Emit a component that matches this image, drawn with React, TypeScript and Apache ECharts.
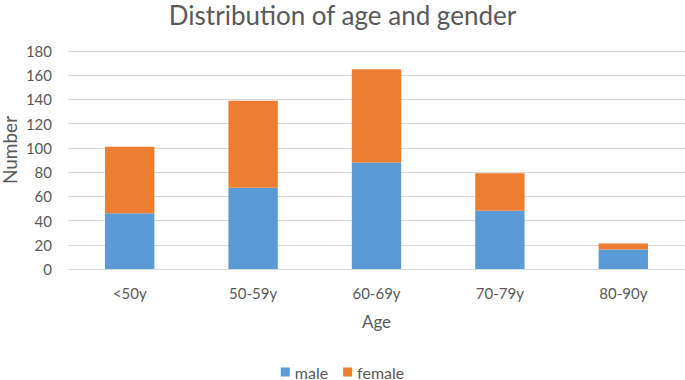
import React, { useEffect, useRef } from "react";
import * as echarts from "echarts";

const categories = ["<50y", "50-59y", "60-69y", "70-79y", "80-90y"];
const maleValues = [46, 67, 88, 48, 16];
const femaleValues = [55, 72, 77, 31, 5];

const FONT = "Lato, 'Liberation Sans', sans-serif";
const GRAY = "#595959";

export default function App() {
  const ref = useRef<HTMLDivElement>(null);
  useEffect(() => {
    document.body.style.margin = "0";
    if (!ref.current) return;
    const chart = echarts.init(ref.current, null, { renderer: "svg" });
    chart.setOption({
      animation: false,
      textStyle: { fontFamily: FONT },
      title: {
        text: "Distribution of age and gender",
        left: "center",
        top: 2,
        padding: 0,
        textStyle: { fontFamily: FONT, fontSize: 26, fontWeight: "normal", color: GRAY },
      },
      legend: {
        top: 364,
        left: "center",
        padding: 0,
        itemWidth: 9,
        itemHeight: 9,
        itemGap: 15,
        icon: "rect",
        textStyle: { fontFamily: FONT, fontSize: 16, color: GRAY },
        data: ["male", "female"],
      },
      grid: { left: 68, right: 0, top: 51, bottom: 111, outerBoundsMode: "none", containLabel: false },
      xAxis: {
        type: "category",
        data: categories,
        name: "Age",
        nameLocation: "middle",
        nameGap: 44,
        nameTextStyle: { fontFamily: FONT, fontSize: 17, color: GRAY },
        axisLine: { show: true, lineStyle: { color: "#d9d9d9" } },
        axisTick: { show: false },
        axisLabel: { fontFamily: FONT, fontSize: 15, color: GRAY, margin: 16 },
      },
      yAxis: {
        type: "value",
        min: 0,
        max: 180,
        interval: 20,
        name: "Number",
        nameLocation: "middle",
        nameGap: 51,
        nameMoveOverlap: false,
        nameTextStyle: { fontFamily: FONT, fontSize: 19, lineHeight: 16, color: GRAY, padding: [0, 0, 0, 20] },
        axisLine: { show: false },
        axisTick: { show: false },
        axisLabel: { fontFamily: FONT, fontSize: 15, color: GRAY, margin: 16 },
        splitLine: { lineStyle: { color: "#d9d9d9", width: 1 } },
      },
      series: [
        {
          name: "male",
          type: "bar",
          stack: "total",
          data: maleValues,
          barWidth: "40%",
          itemStyle: { color: "#5b9bd5" },
        },
        {
          name: "female",
          type: "bar",
          stack: "total",
          data: femaleValues,
          barWidth: "40%",
          itemStyle: { color: "#ed7d31" },
        },
      ],
    });
    return () => chart.dispose();
  }, []);
  return <div ref={ref} style={{ width: 685, height: 380 }} />;
}
